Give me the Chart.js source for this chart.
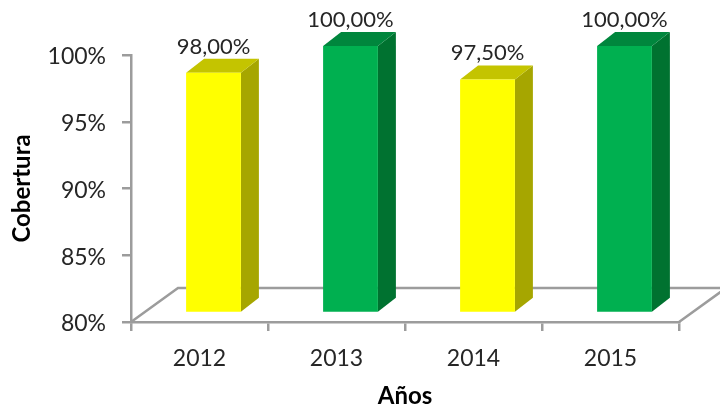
<!DOCTYPE html>
<html>
<head>
<meta charset="utf-8">
<script src="https://cdn.jsdelivr.net/npm/chart.js@4"></script>
<style>
html, body { margin: 0; padding: 0; background: #fff; }
#wrap { width: 720px; height: 411px; position: relative; }
</style>
</head>
<body>
<div id="wrap"><canvas id="chart"></canvas></div>
<script>
const years = ['2012', '2013', '2014', '2015'];
const cobertura = [98, 100, 97.5, 100];
const yTicks = [80, 85, 90, 95, 100];

const frontColors = ['#FFFF00', '#00B050', '#FFFF00', '#00B050'];
const topColors = ['#C4C400', '#00863D', '#C4C400', '#00863D'];
const sideColors = ['#A6A600', '#007230', '#A6A600', '#007230'];

const axisGray = '#9C9C9C';
const textColor = '#262626';
const fontName = 'Lato, Carlito, sans-serif';

// bars sit a bit inside the floor, depth is the 3D offset of each bar
const barShift = { x: 14, y: -9 };
const barDepth = { x: 18, y: -14 };
const floorDepth = { x: 47, y: -34 };

function poly(ctx, pts, color) {
    ctx.fillStyle = color;
    ctx.beginPath();
    pts.forEach((p, i) => i ? ctx.lineTo(p[0], p[1]) : ctx.moveTo(p[0], p[1]));
    ctx.closePath();
    ctx.fill();
}

// floor of the 3D box, under the bars
const floorPlugin = {
    id: 'floor',
    beforeDatasetsDraw(chart) {
        const ctx = chart.ctx;
        const a = chart.chartArea;
        const y0 = chart.scales.y.getPixelForValue(80);
        ctx.save();
        ctx.strokeStyle = axisGray;
        ctx.lineWidth = 2.5;
        ctx.beginPath();
        ctx.moveTo(a.left, y0);
        ctx.lineTo(a.left + floorDepth.x, y0 + floorDepth.y);
        ctx.lineTo(720, y0 + floorDepth.y);
        ctx.moveTo(a.right, y0);
        ctx.lineTo(a.right + floorDepth.x, y0 + floorDepth.y);
        ctx.stroke();
        ctx.restore();
    }
};

// moves the library's bars and adds the side, top faces and the value labels
const bars3dPlugin = {
    id: 'bars3d',
    beforeDatasetDraw(chart) {
        const ctx = chart.ctx;
        chart.getDatasetMeta(0).data.forEach((bar, i) => {
            const l = bar.x - bar.width / 2 + barShift.x;
            const r = bar.x + bar.width / 2 + barShift.x;
            const t = bar.y + barShift.y;
            const b = bar.base + barShift.y;
            poly(ctx, [[r, t], [r + barDepth.x, t + barDepth.y], [r + barDepth.x, b + barDepth.y], [r, b]], sideColors[i]);
            poly(ctx, [[l, t], [l + barDepth.x, t + barDepth.y], [r + barDepth.x, t + barDepth.y], [r, t]], topColors[i]);
        });
        ctx.save();
        ctx.translate(barShift.x, barShift.y);
    },
    afterDatasetDraw(chart) {
        const ctx = chart.ctx;
        ctx.restore();
        ctx.save();
        ctx.font = '22px ' + fontName;
        ctx.fillStyle = textColor;
        ctx.textAlign = 'center';
        ctx.textBaseline = 'alphabetic';
        chart.getDatasetMeta(0).data.forEach((bar, i) => {
            const label = cobertura[i].toFixed(2).replace('.', ',') + '%';
            ctx.fillText(label, bar.x + barShift.x, bar.y + barShift.y + barDepth.y - 5);
        });
        ctx.restore();
    }
};

new Chart(document.getElementById('chart'), {
    type: 'bar',
    data: {
        labels: years,
        datasets: [{
            data: cobertura,
            base: 80,
            backgroundColor: frontColors,
            barPercentage: 0.4,
            categoryPercentage: 1
        }]
    },
    options: {
        responsive: true,
        maintainAspectRatio: false,
        animation: false,
        layout: { padding: { top: 55, right: 41, left: 8, bottom: 0 } },
        plugins: { legend: { display: false }, tooltip: { enabled: false } },
        scales: {
            x: {
                grid: { drawOnChartArea: false, color: axisGray, lineWidth: 2.5, tickLength: 9 },
                border: { color: axisGray, width: 2.5 },
                ticks: { color: textColor, font: { family: fontName, size: 23 }, padding: 14, maxRotation: 0 },
                title: { display: true, text: 'Años', color: '#000', font: { family: fontName, size: 24, weight: 'bold' }, padding: { top: 10, bottom: 0 } },
                afterFit(scale) { scale.height = 89; }
            },
            y: {
                min: 80,
                max: 100,
                afterBuildTicks(scale) { scale.ticks = yTicks.map(v => ({ value: v })); },
                grid: { drawOnChartArea: false, color: axisGray, lineWidth: 2.5, tickLength: 9 },
                border: { color: axisGray, width: 2.5 },
                ticks: { color: textColor, font: { family: fontName, size: 23 }, padding: 16, labelOffset: 2, callback: v => v + '%' },
                title: { display: true, text: 'Cobertura', color: '#000', font: { family: fontName, size: 24, weight: 'bold' }, padding: { top: 0, bottom: 8 } },
                afterFit(scale) { scale.width = 123; }
            }
        }
    },
    plugins: [floorPlugin, bars3dPlugin]
});
</script>
</body>
</html>
